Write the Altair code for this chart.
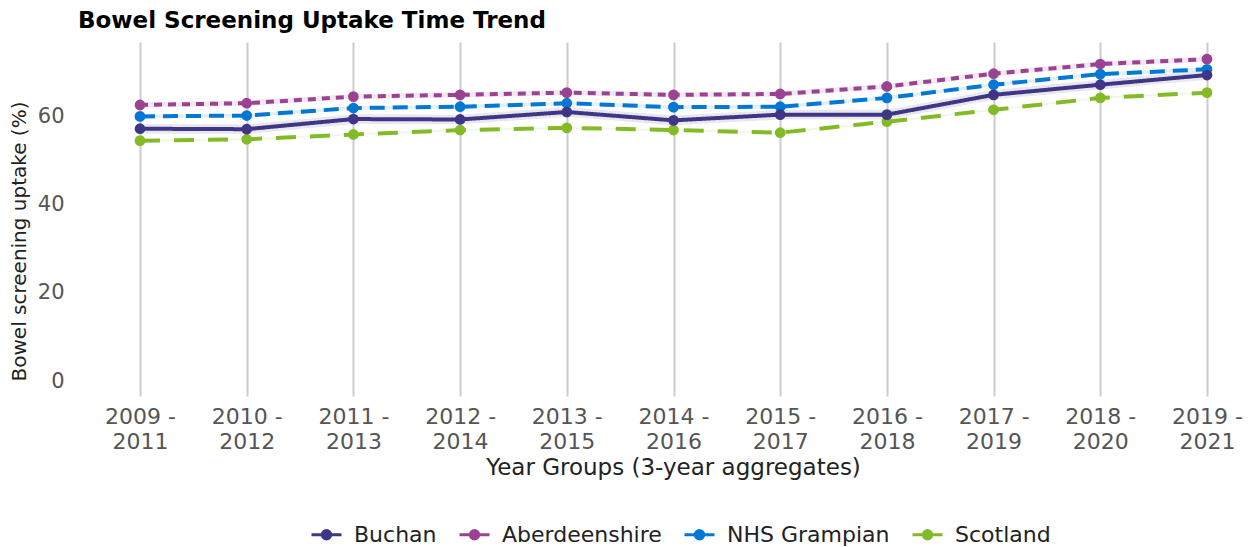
import altair as alt
import pandas as pd

periods = ["2009 - 2011", "2010 - 2012", "2011 - 2013", "2012 - 2014", "2013 - 2015",
           "2014 - 2016", "2015 - 2017", "2016 - 2018", "2017 - 2019", "2018 - 2020",
           "2019 - 2021"]
areas = ["Buchan", "Aberdeenshire", "NHS Grampian", "Scotland"]
colors = ["#3F3685", "#9B4393", "#0078D4", "#83BB26"]
dashes = [[1, 0], [8, 6], [15, 8], [20, 14]]

buchan = [57.3, 57.2, 59.5, 59.4, 61.1, 59.2, 60.5, 60.5, 65.0, 67.3, 69.5]
buchan_low = [56.2, 56.1, 58.4, 58.3, 60.0, 58.1, 59.4, 59.4, 63.9, 66.2, 68.4]
buchan_high = [58.4, 58.3, 60.6, 60.5, 62.2, 60.3, 61.6, 61.6, 66.1, 68.4, 70.6]

aberdeenshire = [62.7, 63.1, 64.6, 65.0, 65.5, 65.0, 65.2, 66.9, 69.8, 72.0, 73.1]
aberdeenshire_low = [62.1, 62.5, 64.0, 64.4, 64.9, 64.4, 64.6, 66.3, 69.2, 71.4, 72.5]
aberdeenshire_high = [63.3, 63.7, 65.2, 65.6, 66.1, 65.6, 65.8, 67.5, 70.4, 72.6, 73.7]

grampian = [60.1, 60.3, 62.0, 62.3, 63.1, 62.2, 62.3, 64.3, 67.3, 69.7, 70.8]
grampian_low = [59.7, 59.9, 61.6, 61.9, 62.7, 61.8, 61.9, 63.9, 66.9, 69.3, 70.4]
grampian_high = [60.5, 60.7, 62.4, 62.7, 63.5, 62.6, 62.7, 64.7, 67.7, 70.1, 71.2]

scotland = [54.6, 54.9, 56.0, 57.0, 57.5, 57.0, 56.4, 58.9, 61.6, 64.3, 65.5]
scotland_low = [54.4, 54.7, 55.8, 56.8, 57.3, 56.8, 56.2, 58.7, 61.4, 64.1, 65.3]
scotland_high = [54.8, 55.1, 56.2, 57.2, 57.7, 57.2, 56.6, 59.1, 61.8, 64.5, 65.7]

series = {
    "Scotland": (scotland, scotland_low, scotland_high),
    "NHS Grampian": (grampian, grampian_low, grampian_high),
    "Aberdeenshire": (aberdeenshire, aberdeenshire_low, aberdeenshire_high),
    "Buchan": (buchan, buchan_low, buchan_high),
}
color_of = dict(zip(areas, colors))
dash_of = dict(zip(areas, dashes))

rows = []
for k, (name, (vals, lo, hi)) in enumerate(series.items()):
    for p, v, l, h in zip(periods, vals, lo, hi):
        rows.append({"area": name, "period": p, "value": v, "low": l, "high": h, "draw": k})
df = pd.DataFrame(rows)

FONT = "DejaVu Sans"
W, H = 1150, 354

x_scale = alt.Scale(type="point", domain=periods, range=[53, 1120], padding=0)
y_scale = alt.Scale(domain=[-3.4, 77.0], nice=False, zero=False)

x_enc = alt.X(
    "period:N",
    sort=periods,
    scale=x_scale,
    axis=alt.Axis(
        title="Year Groups (3-year aggregates)",
        labelExpr="[substring(datum.label, 0, 6), substring(datum.label, 7)]",
        labelAngle=0,
        labelFontSize=22,
        labelColor="#555555",
        labelLineHeight=25,
        labelPadding=10,
        ticks=False,
        domain=False,
        grid=True,
        gridColor="#cccccc",
        gridWidth=2,
        titleFontSize=23,
        titleFontWeight="normal",
        titleColor="#222222",
        titleX=586,
        titleY=71,
        titleBaseline="middle",
    ),
)
y_enc = alt.Y(
    "value:Q",
    scale=y_scale,
    axis=alt.Axis(
        title="Bowel screening uptake (%)",
        values=[0, 20, 40, 60],
        labelFontSize=21,
        labelColor="#555555",
        labelPadding=23,
        ticks=False,
        domain=False,
        grid=False,
        titleFontSize=20,
        titleFontWeight="normal",
        titleColor="#222222",
        titleX=-68,
        titleY=199,
        titleAngle=270,
        titleAlign="center",
        titleBaseline="middle",
    ),
)

legend = alt.Legend(
    title=None,
    orient="none",
    legendX=223,
    legendY=476,
    direction="horizontal",
    symbolType="M-1,0H1M0.28,0A0.28,0.28,0,1,1,-0.28,0A0.28,0.28,0,1,1,0.28,0Z",
    symbolSize=900,
    symbolStrokeWidth=3,
    symbolOpacity=1,
    labelFontSize=22,
    labelColor="#222222",
    labelOffset=11,
    labelLimit=400,
    columnPadding=16,
    padding=0,
)

color_scale = alt.Scale(domain=areas, range=colors)

base = alt.Chart(df)

bands = [
    base.transform_filter(alt.datum.area == name)
    .mark_area(opacity=0.12, color=color_of[name])
    .encode(x=x_enc, y=alt.Y("low:Q", scale=y_scale), y2="high:Q")
    for name in series.keys()
]

lines = [
    base.transform_filter(alt.datum.area == name)
    .mark_line(strokeWidth=4, color=color_of[name], strokeDash=dash_of[name])
    .encode(x=x_enc, y=y_enc)
    for name in series.keys()
]

points = base.mark_point(filled=True, size=60, strokeWidth=3, opacity=1).encode(
    x=x_enc,
    y=y_enc,
    color=alt.Color("area:N", scale=color_scale, legend=legend),
    stroke=alt.Stroke("area:N", scale=color_scale, legend=legend),
    order="draw:Q",
)

chart = (
    alt.layer(*bands, *lines, points)
    .properties(
        width=W,
        height=H,
        autosize=alt.AutoSizeParams(type="none"),
        padding={"left": 79, "top": 34, "right": 6, "bottom": 151},
        title=alt.TitleParams(
            "Bowel Screening Uptake Time Trend",
            anchor="start",
            frame="group",
            fontSize=23,
            fontWeight="bold",
            font=FONT,
            color="#000000",
            dx=-9,
            offset=9,
        ),
    )
    .configure(font=FONT)
    .configure_view(stroke=None)
)

chart.save("out.html", embed_options={"renderer": "svg", "actions": False})
